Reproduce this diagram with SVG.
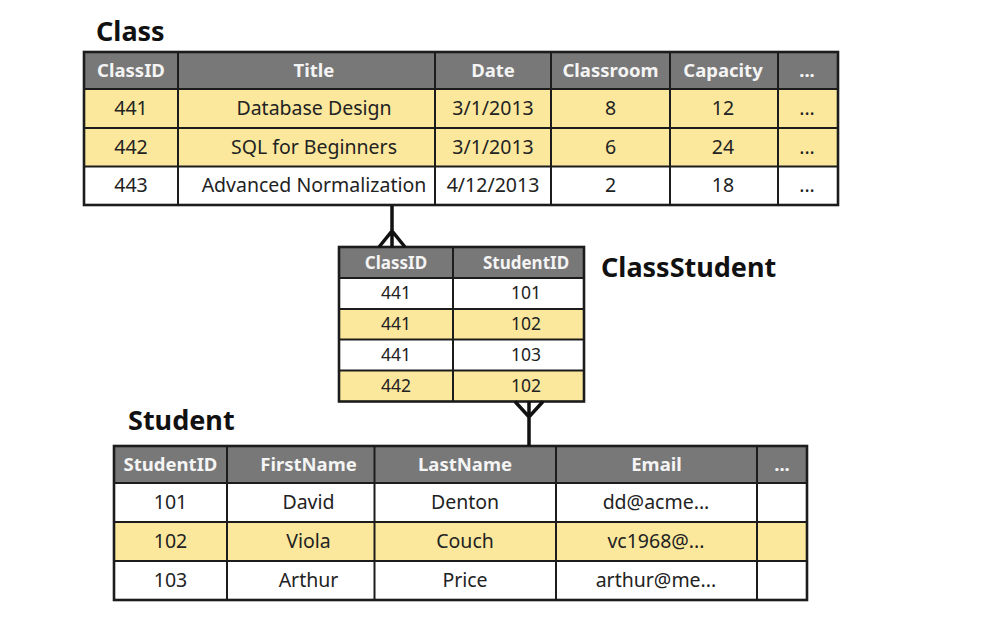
<svg xmlns="http://www.w3.org/2000/svg" width="1003" height="622" viewBox="0 0 1003 622">
<style>
.bg{fill:#ffffff}
.hd{fill:#787878}
.wh{fill:#ffffff}
.ye{fill:#fbe89d}
.grid{stroke:#1c1c1c;stroke-width:2;fill:none}
.outer{stroke:#1c1c1c;stroke-width:2.6;fill:none}
.title{font-family:"Noto Sans","Lato",sans-serif;font-weight:bold;font-size:27px;fill:#111}
.ht{font-family:"Noto Sans","Lato",sans-serif;font-weight:bold;font-size:18.5px;fill:#f4f4f4;text-anchor:middle}
.bt{font-family:"Noto Sans","Lato",sans-serif;font-size:19.5px;fill:#222;text-anchor:middle}
.hts{font-family:"Noto Sans","Lato",sans-serif;font-weight:bold;font-size:17px;fill:#f4f4f4;text-anchor:middle}
.bts{font-family:"Noto Sans","Lato",sans-serif;font-size:17.5px;fill:#222;text-anchor:middle}
.conn{stroke:#111;stroke-width:3.5;fill:none;stroke-linejoin:miter}
</style>
<rect class="bg" x="0" y="0" width="1003" height="622"/>

<g id="class">
  <text class="title" x="96" y="41">Class</text>
  <rect class="hd" x="84" y="52" width="754" height="37"/>
  <rect class="ye" x="84" y="89" width="754" height="77.5"/>
  <rect class="wh" x="84" y="166.5" width="754" height="38.5"/>
  <path class="grid" d="M84 89H838M84 128H838M84 166.5H838M178 52V205M435 52V205M551 52V205M670 52V205M778 52V205"/>
  <rect class="outer" x="84" y="52" width="754" height="153"/>
  <text class="ht" x="131" y="77">ClassID</text>
  <text class="ht" x="314" y="77">Title</text>
  <text class="ht" x="493" y="77">Date</text>
  <text class="ht" x="610.5" y="77">Classroom</text>
  <text class="ht" x="723" y="77">Capacity</text>
  <text class="ht" x="807" y="77">...</text>
  <text class="bt" x="131" y="115">441</text>
  <text class="bt" x="314" y="115">Database Design</text>
  <text class="bt" x="493" y="115">3/1/2013</text>
  <text class="bt" x="610.5" y="115">8</text>
  <text class="bt" x="723" y="115">12</text>
  <text class="bt" x="807" y="115">...</text>
  <text class="bt" x="131" y="153.5">442</text>
  <text class="bt" x="314" y="153.5">SQL for Beginners</text>
  <text class="bt" x="493" y="153.5">3/1/2013</text>
  <text class="bt" x="610.5" y="153.5">6</text>
  <text class="bt" x="723" y="153.5">24</text>
  <text class="bt" x="807" y="153.5">...</text>
  <text class="bt" x="131" y="192">443</text>
  <text class="bt" x="314" y="192">Advanced Normalization</text>
  <text class="bt" x="493" y="192">4/12/2013</text>
  <text class="bt" x="610.5" y="192">2</text>
  <text class="bt" x="723" y="192">18</text>
  <text class="bt" x="807" y="192">...</text>
</g>

<g id="classstudent">
  <text class="title" x="601" y="277">ClassStudent</text>
  <rect class="hd" x="339" y="247" width="245" height="31"/>
  <rect class="wh" x="339" y="278" width="245" height="31"/>
  <rect class="ye" x="339" y="309" width="245" height="30.5"/>
  <rect class="wh" x="339" y="339.5" width="245" height="31"/>
  <rect class="ye" x="339" y="370.5" width="245" height="31"/>
  <path class="grid" d="M339 278H584M339 309H584M339 339.5H584M339 370.5H584M453 247V401.5"/>
  <rect class="outer" x="339" y="247" width="245" height="154.5"/>
  <text class="hts" x="396" y="268.5">ClassID</text>
  <text class="hts" x="526" y="268.5">StudentID</text>
  <text class="bts" x="396" y="299">441</text>
  <text class="bts" x="526" y="299">101</text>
  <text class="bts" x="396" y="330">441</text>
  <text class="bts" x="526" y="330">102</text>
  <text class="bts" x="396" y="360.5">441</text>
  <text class="bts" x="526" y="360.5">103</text>
  <text class="bts" x="396" y="391.5">442</text>
  <text class="bts" x="526" y="391.5">102</text>
</g>

<g id="student">
  <text class="title" x="128" y="430">Student</text>
  <rect class="hd" x="114" y="446" width="693" height="37"/>
  <rect class="wh" x="114" y="483" width="693" height="39"/>
  <rect class="ye" x="114" y="522" width="693" height="39"/>
  <rect class="wh" x="114" y="561" width="693" height="39"/>
  <path class="grid" d="M114 483H807M114 522H807M114 561H807M227 446V600M374.5 446V600M556 446V600M757 446V600"/>
  <rect class="outer" x="114" y="446" width="693" height="154"/>
  <text class="ht" x="170.5" y="471">StudentID</text>
  <text class="ht" x="308.5" y="471">FirstName</text>
  <text class="ht" x="465" y="471">LastName</text>
  <text class="ht" x="656.5" y="471">Email</text>
  <text class="ht" x="782" y="471">...</text>
  <text class="bt" x="170.5" y="508.5">101</text>
  <text class="bt" x="308.5" y="508.5">David</text>
  <text class="bt" x="465" y="508.5">Denton</text>
  <text class="bt" x="656" y="508.5">dd@acme...</text>
  <text class="bt" x="170.5" y="547.5">102</text>
  <text class="bt" x="308.5" y="547.5">Viola</text>
  <text class="bt" x="465" y="547.5">Couch</text>
  <text class="bt" x="656" y="547.5">vc1968@...</text>
  <text class="bt" x="170.5" y="586.5">103</text>
  <text class="bt" x="308.5" y="586.5">Arthur</text>
  <text class="bt" x="465" y="586.5">Price</text>
  <text class="bt" x="656" y="586.5">arthur@me...</text>
</g>

<g id="connectors">
  <path class="conn" d="M392 206V247M379 247L392 231L405 247"/>
  <path class="conn" d="M529 401.5V446M515 401.5L529 417L543 401.5"/>
</g>
</svg>
